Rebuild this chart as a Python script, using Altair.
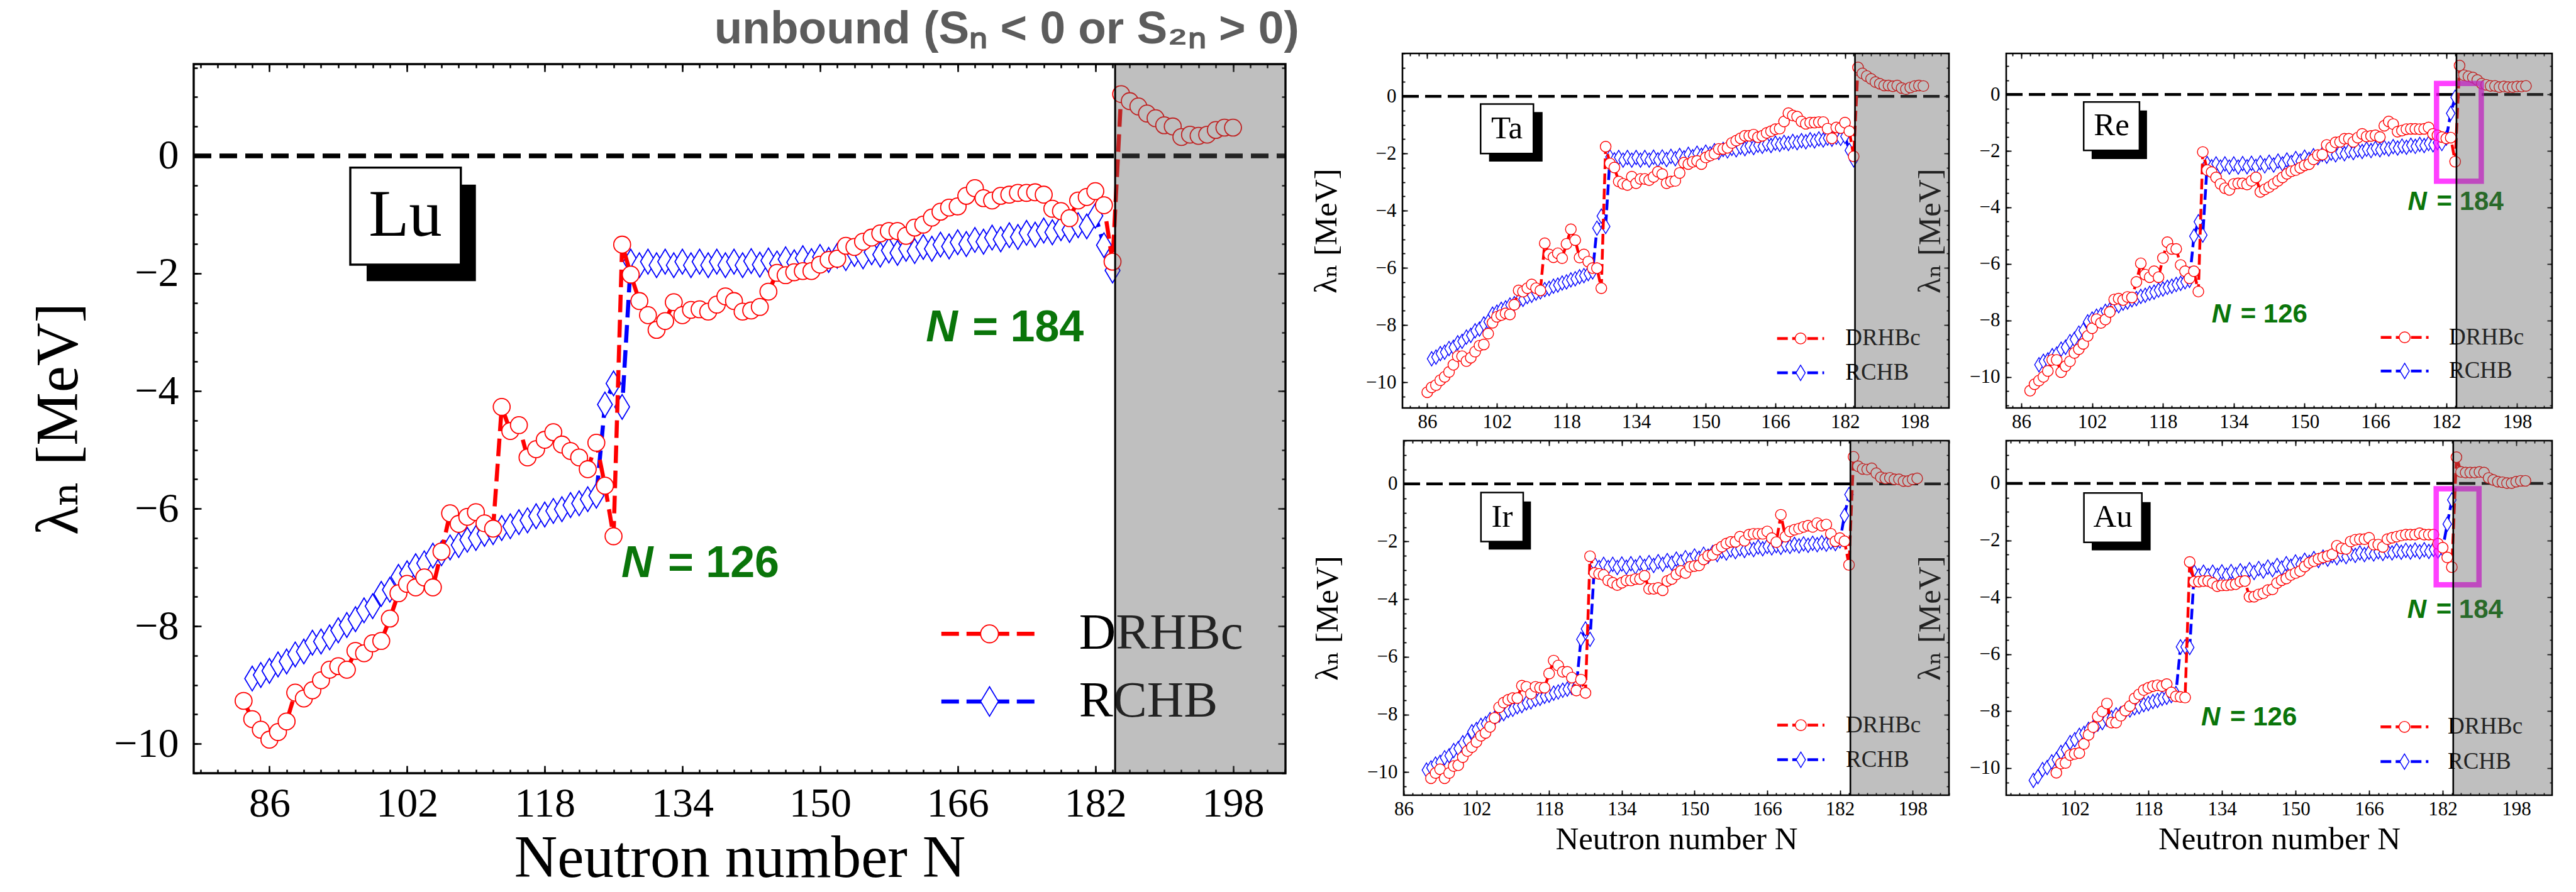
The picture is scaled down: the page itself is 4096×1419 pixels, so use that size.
import altair as alt
import pandas as pd

# ---------------- values ----------------
LU_DRHBC_N0 = 83
LU_DRHBC = [-9.27, -9.58, -9.76, -9.93, -9.80, -9.62, -9.13, -9.23, -9.09, -8.92,
            -8.74, -8.68, -8.74, -8.42, -8.46, -8.29, -8.25, -7.87, -7.44, -7.28,
            -7.34, -7.17, -7.34, -6.73, -6.08, -6.26, -6.14, -6.06, -6.25, -6.34,
            -4.27, -4.68, -4.58, -5.13, -4.99, -4.83, -4.70, -4.91, -5.02, -5.13,
            -5.33, -4.88, -5.61, -6.47, -1.51, -2.02, -2.47, -2.71, -2.96, -2.81,
            -2.49, -2.71, -2.62, -2.61, -2.65, -2.53, -2.39, -2.47, -2.65, -2.63,
            -2.57, -2.31, -1.99, -2.03, -1.98, -1.96, -1.96, -1.85, -1.77, -1.75,
            -1.53, -1.55, -1.46, -1.39, -1.32, -1.28, -1.28, -1.36, -1.22, -1.17,
            -1.05, -0.95, -0.88, -0.86, -0.68, -0.55, -0.72, -0.76, -0.68, -0.66,
            -0.63, -0.63, -0.62, -0.66, -0.90, -0.94, -1.06, -0.76, -0.70, -0.60,
            -0.84, -1.80,
            1.05, 0.93, 0.84, 0.72, 0.64, 0.52, 0.50, 0.32, 0.36, 0.34, 0.36, 0.44, 0.48, 0.48]
LU_RCHB_N0 = 84
LU_RCHB = [-8.89, -8.83, -8.76, -8.65, -8.60, -8.48, -8.43, -8.28, -8.26, -8.19,
           -8.07, -7.98, -7.88, -7.73, -7.66, -7.45, -7.38, -7.16, -7.10, -6.98,
           -6.93, -6.80, -6.76, -6.66, -6.62, -6.53, -6.50, -6.43, -6.40, -6.33,
           -6.30, -6.23, -6.20, -6.13, -6.10, -6.04, -6.01, -5.94, -5.91, -5.84,
           -5.78, -4.23, -3.87, -4.27, -1.80, -1.86, -1.80, -1.86, -1.80, -1.86,
           -1.80, -1.86, -1.80, -1.86, -1.80, -1.86, -1.80, -1.86, -1.79, -1.85,
           -1.78, -1.83, -1.76, -1.81, -1.74, -1.79, -1.72, -1.77, -1.70, -1.74,
           -1.67, -1.71, -1.64, -1.68, -1.61, -1.65, -1.58, -1.62, -1.55, -1.58,
           -1.51, -1.54, -1.47, -1.50, -1.43, -1.46, -1.39, -1.42, -1.35, -1.38,
           -1.31, -1.34, -1.27, -1.30, -1.23, -1.26, -1.18, -1.20, -1.02, -1.52,
           -1.95]

TA_DRHBC_N0 = 86
TA_DRHBC = [-10.35, -10.18, -10.10, -9.93, -9.81, -9.64, -9.39, -9.09, -9.09, -9.26,
            -9.14, -8.93, -8.72, -8.68, -8.30, -7.92, -7.71, -7.65, -7.59, -7.63,
            -7.29, -6.79, -6.83, -6.71, -6.58, -6.71, -6.79, -5.14, -5.53, -5.63,
            -5.49, -5.66, -5.16, -4.65, -5.03, -5.64, -5.53, -5.78, -6.01, -6.01,
            -6.71, -1.76, -2.35, -2.49, -2.98, -3.06, -3.10, -2.81, -3.04, -2.89,
            -2.89, -2.93, -2.82, -2.64, -2.72, -3.04, -2.98, -2.96, -2.68, -2.32,
            -2.37, -2.29, -2.26, -2.37, -2.14, -2.07, -2.01, -1.84, -1.84, -1.80,
            -1.63, -1.55, -1.47, -1.38, -1.38, -1.34, -1.43, -1.38, -1.28, -1.22,
            -1.15, -1.13, -0.88, -0.59, -0.67, -0.71, -0.88, -0.96, -0.92, -0.92,
            -0.90, -0.90, -1.13, -1.47, -1.09, -1.11, -0.92, -1.22, -2.10, 1.01,
            0.80, 0.71, 0.61, 0.50, 0.44, 0.38, 0.38, 0.35, 0.38, 0.29,
            0.25, 0.31, 0.36, 0.38, 0.36]
TA_RCHB_N0 = 87
TA_RCHB = [-9.18, -9.12, -9.00, -8.95, -8.82, -8.78, -8.62, -8.57, -8.42, -8.36,
           -8.20, -8.14, -7.96, -7.88, -7.62, -7.55, -7.45, -7.40, -7.30, -7.25,
           -7.15, -7.10, -7.00, -6.96, -6.88, -6.84, -6.76, -6.72, -6.64, -6.60,
           -6.53, -6.49, -6.42, -6.38, -6.31, -6.27, -6.20, -6.14, -4.61, -4.19,
           -4.55, -2.12, -2.22, -2.14, -2.23, -2.14, -2.23, -2.14, -2.23, -2.14,
           -2.23, -2.13, -2.22, -2.12, -2.21, -2.10, -2.18, -2.07, -2.15, -2.03,
           -2.11, -1.99, -2.06, -1.95, -2.01, -1.90, -1.96, -1.86, -1.91, -1.82,
           -1.87, -1.78, -1.83, -1.74, -1.79, -1.71, -1.75, -1.67, -1.72, -1.64,
           -1.68, -1.61, -1.65, -1.58, -1.62, -1.55, -1.59, -1.52, -1.56, -1.49,
           -1.53, -1.46, -1.50, -1.43, -1.47, -1.40, -1.89, -2.22]

RE_DRHBC_N0 = 88
RE_DRHBC = [-10.49, -10.26, -10.13, -10.00, -9.79, -9.40, -9.40, -9.83, -9.62, -9.45,
            -9.15, -9.02, -8.83, -8.55, -8.28, -7.96, -8.09, -7.97, -7.70, -7.26,
            -7.23, -7.28, -7.17, -7.19, -6.64, -5.98, -6.38, -6.47, -6.26, -6.47,
            -5.79, -5.23, -5.47, -5.47, -6.04, -6.26, -6.51, -6.26, -6.98, -2.04,
            -2.68, -2.75, -2.94, -3.17, -3.32, -3.38, -3.17, -3.15, -3.15, -3.19,
            -3.06, -2.94, -3.45, -3.36, -3.28, -3.17, -3.06, -2.94, -2.81, -2.72,
            -2.68, -2.60, -2.51, -2.47, -2.30, -2.15, -2.13, -1.79, -1.87, -1.70,
            -1.68, -1.57, -1.57, -1.68, -1.53, -1.40, -1.49, -1.47, -1.45, -1.51,
            -1.11, -0.96, -1.05, -1.32, -1.28, -1.23, -1.22, -1.22, -1.23, -1.22,
            -1.17, -1.40, -1.45, -1.51, -1.56, -1.53, -2.38, 1.02, 0.68, 0.64,
            0.60, 0.51, 0.38, 0.34, 0.30, 0.30, 0.26, 0.28, 0.26, 0.26,
            0.28, 0.28, 0.30]
RE_RCHB_N0 = 90
RE_RCHB = [-9.57, -9.45, -9.40, -9.25, -9.19, -9.02, -8.95, -8.75, -8.67, -8.45,
           -8.35, -8.05, -7.95, -7.85, -7.80, -7.68, -7.63, -7.52, -7.48, -7.39,
           -7.35, -7.27, -7.23, -7.15, -7.11, -7.04, -7.00, -6.93, -6.89, -6.83,
           -6.79, -6.73, -6.69, -6.63, -6.58, -5.02, -4.51, -4.98, -2.45, -2.56,
           -2.46, -2.57, -2.46, -2.57, -2.46, -2.57, -2.45, -2.56, -2.44, -2.55,
           -2.42, -2.53, -2.40, -2.50, -2.36, -2.46, -2.32, -2.41, -2.27, -2.36,
           -2.22, -2.30, -2.17, -2.24, -2.12, -2.19, -2.08, -2.14, -2.04, -2.10,
           -2.00, -2.06, -1.97, -2.02, -1.94, -1.99, -1.91, -1.96, -1.88, -1.93,
           -1.85, -1.90, -1.83, -1.87, -1.80, -1.84, -1.77, -1.81, -1.74, -1.78,
           -1.71, -1.74, -1.55, -0.67, -0.10]

IR_DRHBC_N0 = 92
IR_DRHBC = [-10.21, -10.03, -9.90, -10.21, -10.03, -9.79, -9.76, -9.48, -9.27, -9.13,
            -8.95, -8.74, -8.64, -8.43, -8.12, -7.75, -7.59, -7.49, -7.43, -7.43,
            -7.00, -7.04, -7.28, -7.04, -7.07, -7.07, -6.58, -6.13, -6.30, -6.52,
            -6.52, -6.72, -7.17, -6.79, -7.25, -2.51, -3.09, -3.12, -3.16, -3.35,
            -3.43, -3.51, -3.43, -3.35, -3.35, -3.30, -3.30, -3.19, -3.64, -3.64,
            -3.61, -3.69, -3.37, -3.30, -3.14, -3.02, -3.09, -2.88, -2.85, -2.83,
            -2.62, -2.49, -2.46, -2.28, -2.18, -2.07, -2.01, -2.01, -1.83, -1.97,
            -1.76, -1.73, -1.73, -1.73, -1.65, -1.88, -2.02, -1.07, -1.83, -1.65,
            -1.59, -1.55, -1.49, -1.45, -1.49, -1.36, -1.45, -1.41, -1.73, -1.99,
            -1.88, -1.99, -2.81, 0.94, 0.61, 0.52, 0.50, 0.54, 0.37, 0.23,
            0.19, 0.21, 0.16, 0.16, 0.10, 0.10, 0.16, 0.19]
IR_RCHB_N0 = 91
IR_RCHB = [-9.93, -9.85, -9.72, -9.66, -9.50, -9.43, -9.25, -9.18, -8.98, -8.90,
           -8.60, -8.52, -8.38, -8.32, -8.18, -8.13, -8.02, -7.97, -7.86, -7.82,
           -7.73, -7.69, -7.60, -7.56, -7.48, -7.44, -7.37, -7.33, -7.26, -7.22,
           -7.16, -7.12, -7.06, -7.02, -5.39, -5.03, -5.39, -2.78, -2.90, -2.79,
           -2.90, -2.79, -2.90, -2.78, -2.89, -2.77, -2.88, -2.75, -2.86, -2.73,
           -2.83, -2.70, -2.79, -2.66, -2.75, -2.61, -2.70, -2.56, -2.64, -2.50,
           -2.58, -2.44, -2.51, -2.38, -2.45, -2.33, -2.40, -2.29, -2.35, -2.25,
           -2.31, -2.22, -2.28, -2.19, -2.25, -2.17, -2.22, -2.14, -2.20, -2.12,
           -2.17, -2.10, -2.15, -2.08, -2.13, -2.06, -2.11, -2.04, -2.09, -2.02,
           -2.07, -1.98, -1.10, -0.37]

AU_DRHBC_N0 = 98
AU_DRHBC = [-10.16, -9.84, -9.82, -9.54, -9.50, -9.47, -9.15, -8.83, -8.56, -8.19,
            -8.01, -7.73, -8.40, -8.40, -8.16, -7.98, -7.82, -7.55, -7.41, -7.26,
            -7.18, -7.12, -7.09, -7.12, -7.05, -7.34, -7.48, -7.50, -7.52, -2.76,
            -3.45, -3.45, -3.43, -3.43, -3.50, -3.61, -3.58, -3.58, -3.56, -3.54,
            -3.45, -3.43, -3.98, -3.98, -3.90, -3.86, -3.75, -3.72, -3.50, -3.40,
            -3.34, -3.22, -3.15, -3.08, -2.92, -2.79, -2.73, -2.65, -2.60, -2.55,
            -2.49, -2.19, -2.28, -2.30, -2.04, -1.98, -1.96, -1.96, -1.91, -2.15,
            -2.15, -2.23, -1.96, -1.91, -1.87, -1.83, -1.80, -1.80, -1.80, -1.75,
            -1.80, -1.80, -1.80, -2.12, -2.26, -2.60, -2.94, 0.92, 0.40, 0.38,
            0.38, 0.38, 0.40, 0.38, 0.19, 0.12, 0.06, 0.04, 0.01, 0.01,
            0.06, 0.09, 0.09]
AU_RCHB_N0 = 93
AU_RCHB = [-10.43, -10.30, -10.05, -9.98, -9.78, -9.70, -9.45, -9.35, -9.10, -9.00,
           -8.85, -8.78, -8.64, -8.58, -8.45, -8.40, -8.28, -8.23, -8.13, -8.09,
           -8.00, -7.96, -7.88, -7.84, -7.77, -7.73, -7.66, -7.62, -7.55, -7.51,
           -7.45, -7.38, -5.74, -5.74, -5.76, -3.12, -3.24, -3.12, -3.24, -3.12,
           -3.23, -3.11, -3.22, -3.10, -3.20, -3.07, -3.17, -3.03, -3.13, -2.99,
           -3.08, -2.94, -3.03, -2.88, -2.97, -2.82, -2.91, -2.76, -2.84, -2.70,
           -2.77, -2.64, -2.71, -2.59, -2.66, -2.54, -2.61, -2.50, -2.57, -2.47,
           -2.53, -2.44, -2.50, -2.42, -2.48, -2.40, -2.46, -2.38, -2.44, -2.36,
           -2.42, -2.35, -2.41, -2.34, -2.40, -2.33, -2.39, -2.32, -2.38, -2.30,
           -1.43, -0.58]

SERIES_NAMES = ["DRHBc", "RCHB"]
X_TICKS = [86, 102, 118, 134, 150, 166, 182, 198]
Y_TICKS = [-10, -8, -6, -4, -2, 0]
UNBOUND_EDGE = 184.3
HEADER = "unbound (Sₙ < 0 or S₂ₙ > 0)"
X_TITLE = "Neutron number N"
Y_TITLE = "λₙ [MeV]"

# ---------------- styling / layout ----------------
W, H = 4096, 1419
RED = "#ff0000"
BLUE = "#0000ff"
GREEN = "#0a750a"
DIAMOND = "M0,-1L0.6,0L0,1L-0.6,0Z"
SERIF = "Liberation Serif, DejaVu Serif, serif"
SANS = "Liberation Sans, Arial, sans-serif"
NARROW = "Liberation Sans Narrow, Liberation Sans, sans-serif"

BIG = dict(line_w=6.5, dash=[28, 12], circ=720, circ_sw=1.8, dia=1550, dia_sw=1.8,
           zero_w=7.5, zero_dash=[28, 13], vline_w=3, tmaj=12, tmin=6, tick_w=2.5,
           label_fs=66, lpad_x=16, lpad_y=24, title_fs=95, tpad_x=8, tpad_y=38,
           box_sw=3.4, elem_fs=105, leg_fs=81, leg_circ=800, leg_dia=2200,
           green_fs=70, green_dx=74, mag_w=8.5, frame=3.4)
SMALL = dict(line_w=4.5, dash=[17, 7], circ=290, circ_sw=1.4, dia=520, dia_sw=1.4,
             zero_w=4.5, zero_dash=[26, 10], vline_w=2.6, tmaj=8, tmin=4, tick_w=1.8,
             label_fs=31, lpad_x=7, lpad_y=10, title_fs=51, tpad_x=8, tpad_y=36,
             box_sw=2.5, elem_fs=51, leg_fs=37, leg_circ=300, leg_dia=600,
             green_fs=42, green_dx=46, mag_w=8.5, frame=2.6)


def sdf(n0, vals):
    return pd.DataFrame({"N": list(range(n0, n0 + len(vals))), "lam": vals})


def panel(c, st):
    x0, x1 = c["xdom"]
    y0, y1 = c["ydom"]
    L, R, T, B = c["px"]
    xs = alt.Scale(domain=[x0, x1], range=[L, R], nice=False, zero=False)
    ys = alt.Scale(domain=[y0, y1], range=[B, T], nice=False, zero=False)
    xmaj = [v for v in X_TICKS if x0 <= v <= x1]
    xmin = [v for v in range(70, 212, 2) if x0 <= v <= x1]
    ymaj = [v for v in Y_TICKS if y0 <= v <= y1]
    ymin = [v / 2 for v in range(-24, 5) if y0 <= v / 2 <= y1]

    def ax(orient, values, size, labels=False, title=None, expr=None, lpad=0, tpad=0):
        if orient == "bottom":
            off = B - size - H
        elif orient == "top":
            off = -(T + size)
        elif orient == "left":
            off = -(L + size)
        else:
            off = R - size - W
        kw = dict(orient=orient, values=values, offset=off, tickSize=size,
                  tickColor="black", tickWidth=st["tick_w"], domain=False, grid=False,
                  labels=labels, labelFlush=False, labelOverlap=False)
        if labels:
            kw.update(labelFont=SERIF, labelFontSize=st["label_fs"], labelColor="black",
                      labelPadding=lpad)
            if expr:
                kw["labelExpr"] = expr
            else:
                kw["format"] = "d"
        if title:
            kw.update(title=title, titleFont=SERIF, titleFontSize=st["title_fs"],
                      titleFontWeight="normal", titleColor="black", titlePadding=tpad)
        else:
            kw["title"] = None
        return alt.Axis(**kw)

    yexpr = "replace(format(datum.value, 'd'), '-', '\u2212')"
    ax_b = ax("bottom", xmaj, st["tmaj"], labels=c["xlabels"],
              title=X_TITLE if c["xtitle"] else None, lpad=st["lpad_x"], tpad=st["tpad_x"])
    ax_bm = ax("bottom", xmin, st["tmin"])
    ax_t = ax("top", xmaj, st["tmaj"])
    ax_tm = ax("top", xmin, st["tmin"])
    ax_l = ax("left", ymaj, st["tmaj"], labels=True, title=Y_TITLE, expr=yexpr,
              lpad=st["lpad_y"], tpad=st["tpad_y"])
    ax_lm = ax("left", ymin, st["tmin"])
    ax_r = ax("right", ymaj, st["tmaj"])
    ax_rm = ax("right", ymin, st["tmin"])

    def X(f, axis=None):
        return alt.X(f"{f}:Q", scale=xs, axis=axis)

    def Y(f, axis=None):
        return alt.Y(f"{f}:Q", scale=ys, axis=axis)

    def rect_df(a, b, cc, d):
        return pd.DataFrame({"a": [a], "b": [b], "c": [cc], "d": [d]})

    red = sdf(c["dn0"], c["dvals"])
    blue = sdf(c["rn0"], c["rvals"])

    layers = []
    # zero line
    layers.append(alt.Chart(pd.DataFrame({"a": [x0], "b": [x1], "y": [0.0]})).mark_rule(
        color="black", strokeWidth=st["zero_w"], strokeDash=st["zero_dash"]).encode(
        x=X("a"), x2="b", y=Y("y")))
    # RCHB
    layers.append(alt.Chart(blue).mark_line(color=BLUE, strokeWidth=st["line_w"],
                                            strokeDash=st["dash"]).encode(
        x=X("N", ax_b), y=Y("lam", ax_l)))
    layers.append(alt.Chart(blue).mark_point(shape=DIAMOND, size=st["dia"], filled=True,
                                             fill="white", stroke=BLUE, strokeWidth=st["dia_sw"],
                                             opacity=1).encode(
        x=X("N", ax_bm), y=Y("lam", ax_lm)))
    # DRHBc
    layers.append(alt.Chart(red).mark_line(color=RED, strokeWidth=st["line_w"],
                                           strokeDash=st["dash"]).encode(
        x=X("N", ax_t), y=Y("lam", ax_r)))
    layers.append(alt.Chart(red).mark_point(shape="circle", size=st["circ"], filled=True,
                                            fill="white", stroke=RED, strokeWidth=st["circ_sw"],
                                            opacity=1).encode(
        x=X("N", ax_tm), y=Y("lam", ax_rm)))
    # element box with shadow
    layers.append(alt.Chart(rect_df(*c["shadow"])).mark_rect(color="black").encode(
        x=X("a"), x2="b", y=Y("c"), y2="d"))
    layers.append(alt.Chart(rect_df(*c["box"])).mark_rect(
        fill="white", stroke="black", strokeWidth=st["box_sw"]).encode(
        x=X("a"), x2="b", y=Y("c"), y2="d"))
    lx, ly = c["label_xy"]
    layers.append(alt.Chart(pd.DataFrame({"x": [lx], "y": [ly], "t": [c["name"]]})).mark_text(
        font=SERIF, fontSize=st["elem_fs"], color="black", align="center", baseline="middle").encode(
        x=X("x"), y=Y("y"), text="t:N"))
    # legend
    la, lb, lm, lt, ld, lr = c["legend"]
    for yv, col, shp, sz in [(ld, RED, "circle", st["leg_circ"]), (lr, BLUE, DIAMOND, st["leg_dia"])]:
        layers.append(alt.Chart(pd.DataFrame({"x": [la, lb], "y": [yv, yv]})).mark_line(
            color=col, strokeWidth=st["line_w"], strokeDash=st["dash"]).encode(x=X("x"), y=Y("y")))
        layers.append(alt.Chart(pd.DataFrame({"x": [lm], "y": [yv]})).mark_point(
            shape=shp, size=sz, filled=True, fill="white", stroke=col,
            strokeWidth=st["circ_sw"], opacity=1).encode(x=X("x"), y=Y("y")))
    layers.append(alt.Chart(pd.DataFrame({"x": [lt, lt], "y": [ld, lr], "t": SERIES_NAMES})).mark_text(
        font=SERIF, fontSize=st["leg_fs"], color="black", align="left", baseline="middle").encode(
        x=X("x"), y=Y("y"), text="t:N"))
    # magic-number labels
    for key, num in [("g126", "126"), ("g184", "184")]:
        if c.get(key):
            gx, gy = c[key]
            d = pd.DataFrame({"x": [gx], "y": [gy], "a": ["N"], "b": ["= " + num]})
            layers.append(alt.Chart(d).mark_text(
                font=SANS, fontSize=st["green_fs"], fontWeight="bold", fontStyle="italic",
                color=GREEN, align="left", baseline="middle").encode(x=X("x"), y=Y("y"), text="a:N"))
            layers.append(alt.Chart(d).mark_text(
                font=SANS, fontSize=st["green_fs"], fontWeight="bold", color=GREEN,
                align="left", baseline="middle", dx=st["green_dx"]).encode(x=X("x"), y=Y("y"), text="b:N"))
    if c.get("magenta"):
        layers.append(alt.Chart(rect_df(*c["magenta"])).mark_rect(
            fillOpacity=0, stroke="#ff00ff", strokeOpacity=0.75, strokeWidth=st["mag_w"]).encode(
            x=X("a"), x2="b", y=Y("c"), y2="d"))
    if c.get("header"):
        hx, hy = c["header"]
        layers.append(alt.Chart(pd.DataFrame({"x": [hx], "y": [hy], "t": [HEADER]})).mark_text(
            font=NARROW, fontSize=73, fontWeight="bold", color="#5c5c5c",
            align="center", baseline="middle").encode(x=X("x"), y=Y("y"), text="t:N"))
    # unbound region (translucent overlay) and its boundary
    layers.append(alt.Chart(rect_df(UNBOUND_EDGE, x1, y0, y1)).mark_rect(
        color="#595959", opacity=0.39).encode(x=X("a"), x2="b", y=Y("c"), y2="d"))
    layers.append(alt.Chart(pd.DataFrame({"x": [UNBOUND_EDGE], "c": [y0], "d": [y1]})).mark_rule(
        color="black", strokeWidth=st["vline_w"]).encode(x=X("x"), y=Y("c"), y2="d"))
    # frame
    layers.append(alt.Chart(rect_df(x0, x1, y0, y1)).mark_rect(
        fillOpacity=0, stroke="black", strokeWidth=st["frame"]).encode(
        x=X("a"), x2="b", y=Y("c"), y2="d"))

    return alt.layer(*layers).resolve_axis(x="independent", y="independent")


main = panel(dict(name="Lu", dn0=LU_DRHBC_N0, dvals=LU_DRHBC, rn0=LU_RCHB_N0, rvals=LU_RCHB,
                  xdom=[77.2, 204.1], ydom=[-10.5, 1.56], px=(308, 2044, 102, 1230),
                  xlabels=True, xtitle=True,
                  box=(95.4, 108.25, -0.20, -1.85), shadow=(97.3, 110.0, -0.49, -2.13),
                  label_xy=(101.8, -1.02),
                  legend=(164.1, 175.3, 169.7, 180.1, -8.13, -9.28),
                  g126=(126.9, -6.94), g184=(162.3, -2.93), header=(171.7, 2.15)), BIG)
ta = panel(dict(name="Ta", dn0=TA_DRHBC_N0, dvals=TA_DRHBC, rn0=TA_RCHB_N0, rvals=TA_RCHB,
                xdom=[80.3, 205.9], ydom=[-10.9, 1.5], px=(2230, 3099, 85, 649),
                xlabels=True, xtitle=False,
                box=(98.26, 110.4, -0.27, -2.0), shadow=(100.2, 112.5, -0.55, -2.28),
                label_xy=(104.3, -1.13),
                legend=(166.4, 177.2, 171.8, 182.1, -8.47, -9.67)), SMALL)
re_ = panel(dict(name="Re", dn0=RE_DRHBC_N0, dvals=RE_DRHBC, rn0=RE_RCHB_N0, rvals=RE_RCHB,
                 xdom=[82.6, 205.9], ydom=[-11.1, 1.45], px=(3190, 4058, 85, 649),
                 xlabels=True, xtitle=False,
                 box=(100.1, 112.7, -0.27, -1.98), shadow=(101.9, 114.4, -0.57, -2.29),
                 label_xy=(106.4, -1.12),
                 legend=(167.2, 178.0, 172.6, 182.6, -8.60, -9.79),
                 g126=(129.0, -7.79), g184=(173.3, -3.80),
                 magenta=(179.8, 189.9, 0.39, -3.07)), SMALL)
ir = panel(dict(name="Ir", dn0=IR_DRHBC_N0, dvals=IR_DRHBC, rn0=IR_RCHB_N0, rvals=IR_RCHB,
                xdom=[86.0, 206.0], ydom=[-10.8, 1.5], px=(2232, 3099, 701, 1265),
                xlabels=True, xtitle=True,
                box=(103.0, 112.3, -0.30, -2.0), shadow=(104.7, 114.0, -0.61, -2.28),
                label_xy=(107.65, -1.15),
                legend=(168.2, 178.6, 173.4, 183.3, -8.37, -9.57)), SMALL)
au = panel(dict(name="Au", dn0=AU_DRHBC_N0, dvals=AU_DRHBC, rn0=AU_RCHB_N0, rvals=AU_RCHB,
                xdom=[87.1, 205.8], ydom=[-10.95, 1.5], px=(3190, 4058, 701, 1265),
                xlabels=True, xtitle=True,
                box=(104.0, 116.6, -0.34, -2.07), shadow=(105.7, 118.5, -0.66, -2.35),
                label_xy=(110.3, -1.2),
                legend=(168.5, 178.9, 173.7, 183.1, -8.55, -9.77),
                g126=(129.5, -8.21), g184=(174.3, -4.43),
                magenta=(180.6, 189.9, -0.19, -3.56)), SMALL)

chart = alt.layer(main, ta, re_, ir, au).resolve_scale(
    x="independent", y="independent").resolve_axis(
    x="independent", y="independent").properties(
    width=W, height=H, padding=0, background="white",
    autosize=alt.AutoSizeParams(type="none"),
).configure_view(strokeWidth=0)

chart.save("out.html", embed_options={"renderer": "svg", "actions": False})
